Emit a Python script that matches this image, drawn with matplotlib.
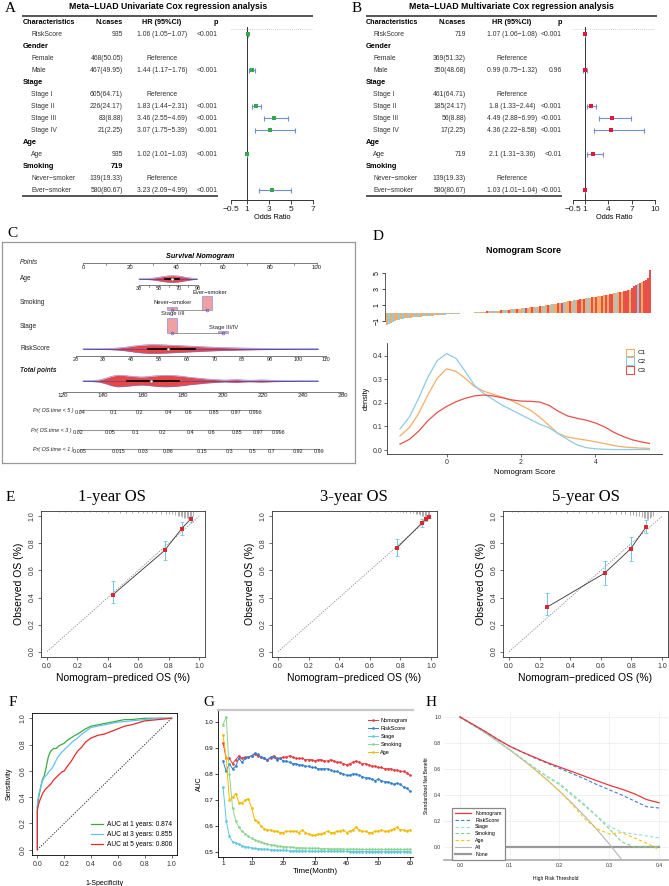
import numpy as np
import matplotlib
matplotlib.use("Agg")
import matplotlib.pyplot as plt
from matplotlib.patches import Patch
from matplotlib.lines import Line2D

plt.rcParams['font.family'] = ['Liberation Sans', 'DejaVu Sans']
plt.rcParams['axes.linewidth'] = 0.6
plt.rcParams['xtick.major.width'] = 0.5
plt.rcParams['ytick.major.width'] = 0.5
plt.rcParams['xtick.major.size'] = 2
plt.rcParams['ytick.major.size'] = 2
plt.rcParams['xtick.major.pad'] = 1.5
plt.rcParams['ytick.major.pad'] = 1.5
SERIF = ['Liberation Serif', 'DejaVu Serif']
MINUS = '\u2212'

# ======================= DATA =======================
# ---- Panels A / B : Cox regression ----
row_labels = ["RiskScore", "Gender", "Female", "Male", "Stage", "Stage I", "Stage II",
              "Stage III", "Stage IV", "Age", "Age", "Smoking", "Never\u2212smoker", "Ever\u2212smoker"]
row_is_group = [False, True, False, False, True, False, False, False, False, True, False, True, False, False]
row_is_ref = [False, False, True, False, False, True, False, False, False, False, False, False, True, False]
nan = np.nan

uni_n = ["935", "", "468(50.05)", "467(49.95)", "", "605(64.71)", "226(24.17)", "83(8.88)",
         "21(2.25)", "", "935", "719", "139(19.33)", "580(80.67)"]
uni_hr = [1.06, nan, nan, 1.44, nan, nan, 1.83, 3.46, 3.07, nan, 1.02, nan, nan, 3.23]
uni_lo = [1.05, nan, nan, 1.17, nan, nan, 1.44, 2.55, 1.75, nan, 1.01, nan, nan, 2.09]
uni_hi = [1.07, nan, nan, 1.76, nan, nan, 2.31, 4.69, 5.39, nan, 1.03, nan, nan, 4.99]
uni_p = ["<0.001", "", "", "<0.001", "", "", "<0.001", "<0.001", "<0.001", "", "<0.001", "", "", "<0.001"]

multi_n = ["719", "", "369(51.32)", "350(48.68)", "", "461(64.71)", "185(24.17)", "56(8.88)",
           "17(2.25)", "", "719", "", "139(19.33)", "580(80.67)"]
multi_hr = [1.07, nan, nan, 0.99, nan, nan, 1.8, 4.49, 4.36, nan, 2.1, nan, nan, 1.03]
multi_lo = [1.06, nan, nan, 0.75, nan, nan, 1.33, 2.88, 2.22, nan, 1.31, nan, nan, 1.01]
multi_hi = [1.08, nan, nan, 1.32, nan, nan, 2.44, 6.99, 8.58, nan, 3.36, nan, nan, 1.04]
multi_p = ["<0.001", "", "", "0.96", "", "", "<0.001", "<0.001", "<0.001", "", "<0.01", "", "", "<0.001"]

uni_ticks = [-0.5, 1, 3, 5, 7]
multi_ticks = [-0.5, 1, 4, 7, 10]

# ---- Panel C : nomogram ----
points_ticks = [0, 10, 20, 30, 40, 50, 60, 70, 80, 90, 100]
age_ticks = [30, 40, 50, 60, 70, 80, 90]
age_grid = [30, 35, 40, 45, 50, 55, 60, 65, 70, 75, 80, 85, 89]
age_hw = [0.3, 0.4, 0.6, 1.0, 1.8, 2.6, 3.2, 3.3, 3.0, 2.2, 1.3, 0.6, 0.3]
age_med, age_q1, age_q3 = 64, 56, 71
smoking_levels = ["Never\u2212smoker", "Ever\u2212smoker"]
smoking_points = [38.0, 53.0]
smoking_freq = [19.33, 80.67]
stage_levels = ["Stage I/II", "Stage III/IV"]
stage_points = [38.0, 59.8]
stage_freq = [88.88, 11.12]
risk_ticks = [20, 30, 40, 50, 60, 70, 80, 90, 100, 110]
risk_grid = [22.7, 28, 32, 35, 38, 41, 44, 47, 50, 53, 56, 59, 62, 65, 68, 71, 74, 77, 80, 84, 88, 92, 96, 100, 104, 107.3]
risk_hw = [0.3, 0.4, 0.6, 1.0, 1.8, 3.0, 3.9, 4.4, 4.3, 4.0, 3.6, 3.2, 2.8, 2.4, 2.0, 1.7, 1.4, 1.2, 1.0, 0.8, 0.6, 0.5, 0.4, 0.35, 0.3, 0.25]
risk_med, risk_q1, risk_q3 = 53.3, 46.2, 63.0
total_ticks = [120, 140, 160, 180, 200, 220, 240, 260]
total_grid = [130, 134, 138, 141, 144, 147, 150, 153, 156, 159, 162, 165, 168, 171, 174, 177, 180, 183, 186, 189,
              192, 195, 198, 201, 204, 207, 210, 213, 216, 219, 222, 225, 230, 235, 240, 247.5]
total_hw = [0.3, 0.5, 1.0, 2.5, 4.5, 5.8, 5.6, 5.0, 4.4, 4.0, 4.3, 5.0, 5.5, 5.8, 5.6, 5.2, 4.6, 3.8, 3.2, 2.6,
            2.0, 1.6, 1.2, 0.9, 1.2, 1.4, 1.0, 0.8, 0.9, 1.1, 0.9, 0.7, 0.5, 0.4, 0.3, 0.2]
total_med, total_q1, total_q3 = 164, 152, 178
pr5_ticks = [0.04, 0.1, 0.2, 0.4, 0.6, 0.85, 0.97, 0.998]
pr3_ticks = [0.02, 0.05, 0.1, 0.2, 0.4, 0.6, 0.85, 0.97, 0.998]
pr1_ticks = [0.005, 0.015, 0.03, 0.06, 0.15, 0.3, 0.5, 0.7, 0.92, 0.99]

# ---- Panel D : nomogram score ----
score_sorted = [-1.60, -1.35, -1.20, -1.08, -1.00, -0.92, -0.85, -0.78, -0.72, -0.67, -0.63, -0.60,
                -0.57, -0.54, -0.51, -0.48, -0.46, -0.44, -0.42, -0.40, -0.38, -0.36, -0.34, -0.32,
                -0.30, -0.28, -0.26, -0.24, -0.22, -0.20, -0.18, -0.16, -0.14, -0.12, -0.10, -0.09,
                -0.07, -0.05, -0.04, -0.02, -0.01, 0.01, 0.03, 0.05, 0.07, 0.09, 0.11, 0.13,
                0.15, 0.17, 0.19, 0.21, 0.23, 0.25, 0.27, 0.29, 0.31, 0.33, 0.36, 0.38,
                0.40, 0.43, 0.45, 0.48, 0.50, 0.53, 0.55, 0.58, 0.61, 0.63, 0.66, 0.69,
                0.72, 0.75, 0.78, 0.81, 0.85, 0.88, 0.92, 0.95, 0.99, 1.03, 1.07, 1.11,
                1.15, 1.19, 1.24, 1.29, 1.34, 1.39, 1.44, 1.48, 1.53, 1.57, 1.62, 1.66,
                1.71, 1.75, 1.80, 1.84, 1.88, 1.92, 1.96, 2.00, 2.04, 2.08, 2.12, 2.16,
                2.20, 2.25, 2.30, 2.35, 2.41, 2.47, 2.53, 2.58, 2.63, 2.68, 2.73, 2.78,
                2.84, 2.90, 3.10, 3.40, 3.55, 3.65, 3.75, 3.85, 3.95, 4.10, 4.35, 5.40]
score_cluster = ("121211212112" "112121121211" "211212112122" "121112211121"
                 "113121211312" "131213112311" "312131213121" "131321131213"
                 "313121313113" "131331213133" "313332313333")
cluster_names = ["C1", "C2", "C3"]
cluster_colors = ["#F4AD67", "#8DCBE6", "#E8504A"]
dens_x = [-1.25, -1.0, -0.75, -0.5, -0.25, 0, 0.25, 0.5, 0.75, 1.0, 1.25, 1.5, 1.75, 2.0,
          2.25, 2.5, 2.75, 3.0, 3.25, 3.5, 3.75, 4.0, 4.25, 4.5, 4.75, 5.0, 5.25, 5.45]
dens_c1 = [0.06, 0.095, 0.155, 0.235, 0.305, 0.345, 0.335, 0.305, 0.27, 0.25, 0.237, 0.225, 0.21, 0.19,
           0.17, 0.14, 0.105, 0.07, 0.055, 0.048, 0.042, 0.035, 0.027, 0.019, 0.013, 0.01, 0.008, 0.007]
dens_c2 = [0.09, 0.14, 0.22, 0.31, 0.38, 0.41, 0.39, 0.335, 0.275, 0.24, 0.215, 0.19, 0.17, 0.15,
           0.13, 0.11, 0.095, 0.07, 0.045, 0.022, 0.01, 0.005, 0.003, 0.002, 0.002, 0.002, 0.002, 0.002]
dens_c3 = [0.025, 0.045, 0.08, 0.125, 0.16, 0.185, 0.205, 0.22, 0.23, 0.234, 0.23, 0.222, 0.213, 0.208,
           0.207, 0.204, 0.19, 0.165, 0.145, 0.135, 0.127, 0.115, 0.098, 0.075, 0.057, 0.043, 0.034, 0.028]

# ---- Panel E : calibration ----
cal_titles = ["1-year OS", "3-year OS", "5-year OS"]
cal_pred = [[0.433, 0.774, 0.886, 0.945], [0.78, 0.94, 0.965, 0.985], [0.25, 0.625, 0.795, 0.895]]
cal_obs = [[0.42, 0.748, 0.909, 0.98], [0.77, 0.95, 0.98, 0.995], [0.33, 0.58, 0.76, 0.92]]
cal_lo = [[0.36, 0.68, 0.859, 0.955], [0.71, 0.92, 0.965, 0.99], [0.27, 0.49, 0.67, 0.875]]
cal_hi = [[0.52, 0.82, 0.958, 1.0], [0.83, 0.98, 0.99, 1.0], [0.43, 0.67, 0.845, 0.97]]
rug_x = [[0.08, 0.12, 0.16, 0.2, 0.24, 0.28, 0.32, 0.36, 0.4, 0.44, 0.48, 0.52, 0.56, 0.6, 0.63, 0.66, 0.69,
          0.72, 0.75, 0.78, 0.8, 0.82, 0.84, 0.86, 0.87, 0.88, 0.89, 0.9, 0.91, 0.92, 0.93, 0.94, 0.95, 0.96],
         [0.6, 0.65, 0.7, 0.74, 0.78, 0.8, 0.82, 0.84, 0.86, 0.88, 0.9, 0.91, 0.92, 0.93, 0.94, 0.95, 0.96,
          0.97, 0.98, 0.99],
         [0.02, 0.06, 0.1, 0.14, 0.18, 0.22, 0.26, 0.3, 0.34, 0.38, 0.42, 0.46, 0.5, 0.54, 0.58, 0.62, 0.66,
          0.7, 0.73, 0.76, 0.79, 0.81, 0.83, 0.85, 0.87, 0.88, 0.89, 0.9, 0.91, 0.92, 0.93, 0.94]]
rug_h = [[0.008, 0.006, 0.008, 0.008, 0.01, 0.008, 0.01, 0.01, 0.012, 0.01, 0.012, 0.012, 0.012, 0.014, 0.014,
          0.016, 0.016, 0.018, 0.02, 0.022, 0.022, 0.025, 0.03, 0.035, 0.035, 0.04, 0.045, 0.05, 0.05, 0.055,
          0.06, 0.06, 0.05, 0.04],
         [0.006, 0.006, 0.008, 0.008, 0.01, 0.01, 0.012, 0.012, 0.015, 0.018, 0.02, 0.022, 0.025, 0.03, 0.035,
          0.04, 0.045, 0.05, 0.06, 0.055],
         [0.008, 0.006, 0.008, 0.01, 0.008, 0.01, 0.008, 0.01, 0.01, 0.012, 0.01, 0.012, 0.012, 0.014, 0.014,
          0.016, 0.018, 0.02, 0.022, 0.025, 0.028, 0.03, 0.035, 0.04, 0.045, 0.05, 0.055, 0.06, 0.06, 0.055,
          0.045, 0.035]]

# ---- Panel F : ROC ----
roc1_fpr = [0, 0, 0.01, 0.02, 0.03, 0.04, 0.05, 0.06, 0.07, 0.08, 0.09, 0.1, 0.12, 0.14, 0.16, 0.18, 0.2, 0.22,
            0.25, 0.28, 0.3, 0.33, 0.36, 0.4, 0.45, 0.5, 0.55, 0.6, 0.65, 0.7, 0.8, 0.9, 1.0]
roc1_tpr = [0, 0.33, 0.4, 0.45, 0.5, 0.54, 0.56, 0.6, 0.65, 0.7, 0.73, 0.75, 0.77, 0.77, 0.79, 0.8, 0.81, 0.83,
            0.85, 0.87, 0.88, 0.9, 0.92, 0.94, 0.95, 0.96, 0.97, 0.98, 0.99, 0.99, 1.0, 1.0, 1.0]
roc3_fpr = [0, 0, 0.01, 0.02, 0.03, 0.05, 0.07, 0.09, 0.11, 0.13, 0.15, 0.18, 0.2, 0.23, 0.26, 0.3, 0.33, 0.36,
            0.4, 0.45, 0.5, 0.55, 0.6, 0.7, 0.8, 0.9, 1.0]
roc3_tpr = [0, 0.35, 0.42, 0.46, 0.5, 0.55, 0.57, 0.6, 0.62, 0.66, 0.7, 0.74, 0.76, 0.79, 0.82, 0.85, 0.88, 0.9,
            0.93, 0.94, 0.95, 0.96, 0.97, 0.98, 0.99, 1.0, 1.0]
roc5_fpr = [0, 0, 0.01, 0.02, 0.04, 0.06, 0.08, 0.1, 0.12, 0.15, 0.18, 0.2, 0.22, 0.25, 0.28, 0.3, 0.33, 0.36,
            0.4, 0.45, 0.5, 0.55, 0.6, 0.65, 0.7, 0.8, 0.9, 1.0]
roc5_tpr = [0, 0.3, 0.35, 0.38, 0.43, 0.46, 0.48, 0.5, 0.53, 0.56, 0.59, 0.6, 0.63, 0.67, 0.72, 0.75, 0.78, 0.82,
            0.85, 0.87, 0.88, 0.9, 0.92, 0.94, 0.95, 0.98, 0.99, 1.0]
roc_labels = ["AUC at 1 years: 0.874", "AUC at 3 years: 0.855", "AUC at 5 years: 0.806"]

# ---- Panel G : time-dependent AUC ----
months = list(range(1, 61))
auc_nomogram = [0.92, 0.86, 0.86, 0.84, 0.855, 0.87, 0.86, 0.865, 0.865, 0.87, 0.875, 0.87, 0.865, 0.86, 0.855,
                0.86, 0.87, 0.86, 0.86, 0.865, 0.865, 0.87, 0.865, 0.86, 0.86, 0.86, 0.855, 0.855, 0.855, 0.85,
                0.855, 0.855, 0.85, 0.85, 0.855, 0.85, 0.845, 0.845, 0.84, 0.835, 0.84, 0.845, 0.85, 0.845, 0.84,
                0.84, 0.835, 0.83, 0.83, 0.825, 0.825, 0.82, 0.82, 0.82, 0.815, 0.815, 0.81, 0.81, 0.805, 0.795]
auc_riskscore = [0.85, 0.81, 0.84, 0.82, 0.83, 0.86, 0.845, 0.86, 0.865, 0.87, 0.88, 0.875, 0.865, 0.86, 0.855,
                 0.865, 0.865, 0.855, 0.86, 0.85, 0.85, 0.845, 0.84, 0.84, 0.835, 0.835, 0.83, 0.83, 0.825, 0.825,
                 0.82, 0.82, 0.82, 0.82, 0.815, 0.81, 0.81, 0.805, 0.80, 0.795, 0.795, 0.80, 0.80, 0.795, 0.79,
                 0.785, 0.785, 0.78, 0.775, 0.78, 0.775, 0.77, 0.77, 0.765, 0.76, 0.765, 0.76, 0.75, 0.745, 0.735]
auc_stage = [0.75, 0.62, 0.56, 0.54, 0.535, 0.53, 0.525, 0.52, 0.518, 0.516, 0.514, 0.513, 0.512, 0.511, 0.51,
             0.509, 0.508, 0.507, 0.507, 0.506, 0.506, 0.505, 0.505, 0.505, 0.504, 0.504, 0.504, 0.504, 0.503,
             0.503, 0.503, 0.503, 0.503, 0.503, 0.503, 0.503, 0.503, 0.503, 0.503, 0.503, 0.502, 0.502, 0.502,
             0.502, 0.502, 0.502, 0.502, 0.502, 0.502, 0.502, 0.502, 0.502, 0.502, 0.502, 0.502, 0.502, 0.502,
             0.502, 0.502, 0.502]
auc_smoking = [0.99, 1.02, 0.80, 0.67, 0.62, 0.595, 0.58, 0.57, 0.56, 0.553, 0.547, 0.542, 0.538, 0.534, 0.531,
               0.528, 0.526, 0.524, 0.522, 0.521, 0.52, 0.519, 0.518, 0.517, 0.516, 0.516, 0.515, 0.515, 0.514,
               0.514, 0.514, 0.513, 0.513, 0.513, 0.512, 0.512, 0.512, 0.512, 0.511, 0.511, 0.511, 0.511, 0.511,
               0.51, 0.51, 0.51, 0.51, 0.51, 0.51, 0.51, 0.51, 0.51, 0.51, 0.51, 0.51, 0.51, 0.51, 0.51, 0.51, 0.51]
auc_age = [0.95, 0.86, 0.70, 0.71, 0.725, 0.69, 0.69, 0.70, 0.705, 0.67, 0.625, 0.615, 0.60, 0.59, 0.585, 0.585,
           0.58, 0.58, 0.575, 0.575, 0.58, 0.58, 0.58, 0.58, 0.575, 0.585, 0.575, 0.57, 0.565, 0.565, 0.57, 0.57,
           0.575, 0.58, 0.575, 0.575, 0.58, 0.58, 0.585, 0.575, 0.58, 0.585, 0.595, 0.585, 0.58, 0.58, 0.575,
           0.575, 0.58, 0.58, 0.585, 0.58, 0.58, 0.585, 0.59, 0.595, 0.585, 0.585, 0.58, 0.585]

# ---- Panel H : decision curve ----
dca_thr = [0.0, 0.025, 0.05, 0.075, 0.1, 0.125, 0.15, 0.175, 0.2, 0.225, 0.25, 0.275, 0.3, 0.325, 0.35, 0.375, 0.4]
dca_nomogram = [1.0, 0.945, 0.89, 0.83, 0.775, 0.73, 0.69, 0.65, 0.615, 0.58, 0.545, 0.51, 0.475, 0.445, 0.41, 0.365, 0.34]
dca_riskscore = [1.0, 0.945, 0.89, 0.83, 0.775, 0.73, 0.685, 0.645, 0.605, 0.565, 0.525, 0.48, 0.44, 0.4, 0.355, 0.31, 0.30]
dca_stage = [1.0, 0.94, 0.88, 0.815, 0.75, 0.68, 0.61, 0.545, 0.49, 0.41, 0.33, 0.24, 0.16, 0.115, 0.1, 0.085, 0.07]
dca_smoking = [1.0, 0.94, 0.88, 0.815, 0.75, 0.68, 0.61, 0.54, 0.48, 0.4, 0.32, 0.235, 0.14, 0.04, 0.0, 0.0, 0.0]
dca_age = [1.0, 0.94, 0.88, 0.815, 0.747, 0.675, 0.598, 0.515, 0.43, 0.33, 0.22, 0.14, 0.1, 0.11, 0.07, 0.03, -0.02]
dca_all_thr = [0.0, 0.025, 0.05, 0.075, 0.1, 0.125, 0.15, 0.175, 0.2, 0.225, 0.25, 0.275, 0.3, 0.3256]
dca_all = [1.0, 0.942, 0.88, 0.815, 0.747, 0.674, 0.598, 0.517, 0.43, 0.338, 0.24, 0.136, 0.023, -0.1]
dca_none_thr = [0.0, 0.4]
dca_none = [0.0, 0.0]

# ======================= FIGURE =======================
W, H = 669, 886
fig = plt.figure(figsize=(W / 100, H / 100), dpi=100)


def ax_px(l, t, r, b):
    return fig.add_axes([l / W, 1 - b / H, (r - l) / W, (b - t) / H])


ov = ax_px(0, 0, W, H)
ov.set_xlim(0, W)
ov.set_ylim(H, 0)
ov.axis('off')

for lab, x, y in [('A', 10, 8), ('B', 357, 8), ('C', 12, 233), ('D', 378, 236), ('E', 10, 497),
                  ('F', 13, 702), ('G', 209, 702), ('H', 431, 702)]:
    ov.text(x, y, lab, fontsize=11, family=SERIF, ha='center', va='center')


# ---------------- A / B ----------------
def cox_panel(L, n, hr, lo, hi, pv, mcol):
    ov.text(L['title_x'], 6.5, L['title'], ha='center', va='center', fontsize=6.3, fontweight='bold')
    ov.plot([L['l'], L['r']], [16, 16], color='#555555', lw=1.4, solid_capstyle='butt')
    fs = 4.9
    hk = dict(fontsize=5.2, fontweight='bold', va='center')
    ov.text(L['char_x'], 22, 'Characteristics', ha='left', **hk)
    ov.text(L['n_r'], 22, 'N.cases', ha='right', **hk)
    ov.text(L['hr_c'], 22, 'HR (95%CI)', ha='center', **hk)
    ov.text(L['p_c'], 22, 'p', ha='center', **hk)
    for i, lab in enumerate(row_labels):
        y = 34 + 12 * i
        if row_is_group[i]:
            ov.text(L['char_x'], y, lab, fontsize=5.3, fontweight='bold', va='center')
            if n[i]:
                ov.text(L['n_r'], y, n[i], fontsize=5.3, fontweight='bold', va='center', ha='right')
            continue
        tk = dict(fontsize=fs, color='#333333', va='center')
        ov.text(L['sub_x'], y, lab, ha='left', **tk)
        ov.text(L['n_r'], y, n[i], ha='right', **tk)
        if row_is_ref[i]:
            ov.text(L['hr_c'], y, 'Reference', ha='center', **tk)
        else:
            ov.text(L['hr_c'], y, f"{hr[i]:g} ({lo[i]:g}{MINUS}{hi[i]:g})", ha='center', **tk)
            ov.text(L['p_r'], y, pv[i], ha='right', **tk)
    ov.plot([L['l'], L['p_r']], [196, 196], color='#555555', lw=1.4, solid_capstyle='butt')

    fx = ax_px(L['fl'], 27, L['fr'], 200)
    fx.patch.set_alpha(0)
    fx.set_xlim(L['xlim'])
    fx.set_ylim(13.833, -0.583)
    for s in ['top', 'right', 'left']:
        fx.spines[s].set_visible(False)
    fx.spines['bottom'].set_color('#333333')
    fx.spines['bottom'].set_linewidth(0.7)
    fx.set_xticks(L['ticks'])
    fx.set_xticklabels([f"{t:g}".replace('-', MINUS) for t in L['ticks']], fontsize=6)
    fx.set_yticks([])
    fx.tick_params(axis='x', length=3, width=0.6, pad=1.5, colors='#222222')
    fx.set_xlabel('Odds Ratio', fontsize=5.3, labelpad=0.5)
    fx.axvline(1, color='#333333', lw=0.7)
    fx.axhline(-0.45, color='#BBBBBB', lw=0.6, ls=(0, (1, 1.5)))
    hr = np.array(hr, float)
    lo = np.array(lo, float)
    hi = np.array(hi, float)
    rows = np.arange(len(hr))
    ok = np.isfinite(hr)
    fx.errorbar(hr[ok], rows[ok], xerr=[hr[ok] - lo[ok], hi[ok] - hr[ok]], fmt='none',
                ecolor='#6E8FD3', elinewidth=0.8, capsize=1.8, capthick=0.8)
    fx.plot(hr[ok], rows[ok], 's', color=mcol, ms=3.2, mew=0)


cox_panel(dict(title='Meta\u2212LUAD Univariate Cox regression analysis', title_x=168, l=22, r=313,
               char_x=23, sub_x=31, n_r=123, hr_c=162, p_c=216, p_r=218, fl=230.5, fr=313,
               xlim=(-0.5, 7), ticks=uni_ticks),
          uni_n, uni_hr, uni_lo, uni_hi, uni_p, '#33A84A')
cox_panel(dict(title='Meta\u2212LUAD Multivariate Cox regression analysis', title_x=511, l=366, r=657,
               char_x=366, sub_x=373, n_r=466, hr_c=512, p_c=560, p_r=562, fl=573, fr=655,
               xlim=(-0.5, 10), ticks=multi_ticks),
          multi_n, multi_hr, multi_lo, multi_hi, multi_p, '#E3163C')

# ---------------- C : nomogram ----------------
cx = ax_px(2, 242, 355, 463)
cx.set_xlim(2, 355)
cx.set_ylim(463, 242)
cx.set_xticks([])
cx.set_yticks([])
for s in cx.spines.values():
    s.set_color('#999999')
    s.set_linewidth(0.9)
cx.patch.set_alpha(0)


def lin(v, v0, v1, q0, q1):
    return q0 + (np.asarray(v, float) - v0) * (q1 - q0) / (v1 - v0)


pts_px = lambda v: lin(v, 0, 100, 83, 317)
age_px = lambda v: lin(v, 30, 90, 139, 198)
risk_px = lambda v: lin(v, 20, 110, 75.5, 325.5)
tot_px = lambda v: lin(v, 120, 260, 63, 343)
cloglog = lambda p: np.log(-np.log(1 - np.asarray(p, float)))


def pr_px(p, p0, t0):
    return tot_px(t0 + 17.5 * (cloglog(p) - cloglog(p0)))


def nomo_axis(xs, labs, y, fs=4.3, tick=1.8, dy=4.2, lc='#666666', lw=0.6):
    xs = np.asarray(xs, float)
    cx.plot([xs.min(), xs.max()], [y, y], color=lc, lw=lw)
    for x, lab in zip(xs, labs):
        cx.plot([x, x], [y, y + tick], color=lc, lw=0.5)
        if lab:
            cx.text(x, y + dy, lab, fontsize=fs, ha='center', va='center', color='#222222')


def violin(grid, hw, y, f, med, q1, q3):
    xs = f(grid)
    hw = np.asarray(hw, float)
    cx.fill_between(xs, y - hw, y + hw, color='#E8474A', lw=0)
    cx.plot(xs, y - hw, color='#7077D6', lw=0.4)
    cx.plot(xs, y + hw, color='#7077D6', lw=0.4)
    cx.plot(xs, np.full_like(xs, y), color='#3A3F9A', lw=0.4)
    cx.plot(f([q1, q3]), [y, y], color='black', lw=1.2)
    cx.plot(f([med]), [y], 'o', ms=2.2, mfc='white', mec='#555555', mew=0.4)


lk = dict(fontsize=4.7, va='center', ha='left', color='#222222')
cx.text(200, 257, 'Survival Nomogram', fontsize=5.2, fontweight='bold', style='italic', ha='center', va='center')
cx.text(20, 262, 'Points', style='italic', **lk)
nomo_axis(pts_px(points_ticks), [str(t) if t % 20 == 0 else '' for t in points_ticks], 263, fs=4.3)

cx.text(20, 279, 'Age', **lk)
violin(age_grid, age_hw, 279, age_px, age_med, age_q1, age_q3)
nomo_axis(age_px(age_ticks), [str(t) if t % 20 == 10 else '' for t in age_ticks], 285, fs=3.9, dy=3.8)

BAR_SCALE = 0.17


def cat_row(points, freq, levels, base, label_dx):
    xs = pts_px(points)
    cx.plot(xs, [base, base], color='#888888', lw=0.6)
    for x, fr, lev, dx in zip(xs, freq, levels, label_dx):
        hgt = fr * BAR_SCALE
        cx.bar(x, -hgt, bottom=base, width=9.5, color='#EFA0A0', edgecolor='#8F8FE0', lw=0.5)
        cx.plot([x], [base], 'o', ms=2, mfc='none', mec='#5A5AD0', mew=0.5)
        cx.text(x + dx, base - hgt - 4, lev, fontsize=4.2, ha='center', va='center', color='#222222')


cx.text(20, 302, 'Smoking', **lk)
cat_row(smoking_points, smoking_freq, smoking_levels, 310, [1, 3])
cx.text(20, 327, 'Stage', **lk)
cat_row(stage_points, stage_freq, stage_levels, 333, [1, 1])

cx.text(20, 349, 'RiskScore', **lk)
violin(risk_grid, risk_hw, 349, risk_px, risk_med, risk_q1, risk_q3)
nomo_axis(risk_px(risk_ticks), [str(t) for t in risk_ticks], 356, fs=3.9, dy=3.8)

cx.text(20, 371, 'Total points', fontweight='bold', style='italic', **lk)
violin(total_grid, total_hw, 381, tot_px, total_med, total_q1, total_q3)
nomo_axis(tot_px(total_ticks), [str(t) for t in total_ticks], 392, fs=4.5, dy=3.5)

for yr, ticks, t0, ry in [(5, pr5_ticks, 128.5, 411), (3, pr3_ticks, 127.5, 431), (1, pr1_ticks, 128.5, 450)]:
    xs = pr_px(ticks, ticks[0], t0)
    nomo_axis(xs, [f"{t:g}" for t in ticks], ry - 1.5, fs=3.9, tick=1.2, dy=2.8, lc='#999999', lw=0.8)
    cx.text(xs[0] - 7, ry - 0.5, f"Pr( OS.time < {yr} )", fontsize=3.9, style='italic', ha='right', va='center',
            color='#222222')

# ---------------- D ----------------
ov.text(523, 250, 'Nomogram Score', fontsize=6.5, fontweight='bold', ha='center', va='center')
d1 = ax_px(385, 265, 653, 325)
d1.patch.set_alpha(0)
cols = [cluster_colors[int(c) - 1] for c in score_cluster]
d1.bar(np.arange(len(score_sorted)), score_sorted, width=1.0, color=cols, lw=0)
d1.set_xlim(-1, 132.5)
d1.set_ylim(-1.5, 6.0)
for s in ['top', 'right', 'bottom']:
    d1.spines[s].set_visible(False)
d1.spines['left'].set_bounds(-1, 5)
d1.spines['left'].set_color('#444444')
d1.set_xticks([])
d1.set_yticks([-1, 1, 3, 5])
d1.set_yticklabels(['\u22121', '1', '3', '5'], rotation=90, va='center', fontsize=5)
d1.tick_params(axis='y', length=2, pad=1)

d2 = ax_px(387, 343, 662, 454)
d2.patch.set_alpha(0)
for name, dens, c in zip(cluster_names, [dens_c1, dens_c2, dens_c3], cluster_colors):
    d2.plot(dens_x, dens, color=c, lw=0.9)
d2.set_xlim(-1.6, 5.79)
d2.set_ylim(-0.017, 0.455)
for s in ['top', 'right']:
    d2.spines[s].set_visible(False)
for s in ['left', 'bottom']:
    d2.spines[s].set_color('#333333')
d2.set_xticks([0, 2, 4])
d2.set_yticks([0, 0.1, 0.2, 0.3, 0.4])
d2.set_yticklabels(['0.0', '0.1', '0.2', '0.3', '0.4'])
d2.tick_params(labelsize=5, colors='#333333', length=2, pad=1.5)
d2.set_xlabel('Nomogram Score', fontsize=5.6, labelpad=2)
d2.set_ylabel('density', fontsize=5.3, labelpad=2)
hd = [Patch(facecolor='white', edgecolor=c, lw=0.8) for c in cluster_colors]
d2.legend(hd, cluster_names, loc='upper left', bbox_to_anchor=((623 - 387) / 275, 1 - (346 - 343) / 111),
          fontsize=4.5, frameon=False, handlelength=1.4, handleheight=1.5, labelspacing=0.2,
          handletextpad=0.6, borderaxespad=0)

# ---------------- E ----------------
e_boxes = [(41, 205), (272, 437), (503, 668)]
e_title_x = [112, 354, 586]
ticks01 = [0, 0.2, 0.4, 0.6, 0.8, 1.0]
tl01 = ['0.0', '0.2', '0.4', '0.6', '0.8', '1.0']
for k in range(3):
    l, r = e_boxes[k]
    ax = ax_px(l, 511, r, 657)
    ax.set_xlim(-0.04, 1.04)
    ax.set_ylim(-0.04, 1.04)
    ax.plot([0, 1], [0, 1], color='#888888', lw=0.6, ls=(0, (1.5, 1.5)))
    rx = np.array(rug_x[k])
    rh = np.array(rug_h[k])
    ax.vlines(rx, 1.04 - rh, 1.04, color='#8C8C8C', lw=0.5)
    p = np.array(cal_pred[k])
    o = np.array(cal_obs[k])
    lo = np.array(cal_lo[k])
    hi = np.array(cal_hi[k])
    ax.errorbar(p, o, yerr=[o - lo, hi - o], fmt='none', ecolor='#69C9E6', elinewidth=0.7,
                capsize=1.3, capthick=0.6)
    ax.plot(p, o, color='#333333', lw=0.6)
    ax.plot(p, o, 's', color='#E0242E', ms=2.4, mew=0)
    ax.set_xticks(ticks01)
    ax.set_xticklabels(tl01)
    ax.set_yticks(ticks01)
    ax.set_yticklabels(tl01, rotation=90, va='center')
    ax.tick_params(labelsize=5, colors='#333333', length=2.5, pad=1.5)
    for s in ax.spines.values():
        s.set_color('#333333')
    ax.set_xlabel('Nomogram\u2212prediced OS (%)', fontsize=7.5, labelpad=2.5)
    ax.set_ylabel('Observed OS (%)', fontsize=7.5, labelpad=3)
    ov.text(e_title_x[k], 497, cal_titles[k], family=SERIF, fontsize=12, ha='center', va='center')

# ---------------- F ----------------
fa = ax_px(32, 713, 177, 855)
fa.set_xlim(-0.04, 1.04)
fa.set_ylim(-0.04, 1.04)
fa.plot([0, 1], [0, 1], color='#222222', lw=0.7, ls=(0, (1.2, 1.5)))
for fpr, tpr, c, lab in [(roc1_fpr, roc1_tpr, '#3DAA3D', roc_labels[0]),
                         (roc3_fpr, roc3_tpr, '#62C3EE', roc_labels[1]),
                         (roc5_fpr, roc5_tpr, '#E8282B', roc_labels[2])]:
    fa.plot(fpr, tpr, color=c, lw=0.9, label=lab)
fa.set_xticks(ticks01)
fa.set_xticklabels(tl01)
fa.set_yticks(ticks01)
fa.set_yticklabels(tl01, rotation=90, va='center')
fa.tick_params(labelsize=5, colors='#333333', length=2.5, pad=1.5)
fa.set_xlabel('1-Specificity', fontsize=5, labelpad=9)
fa.set_ylabel('Sensitivity', fontsize=5.2, labelpad=5)
fa.legend(loc='lower right', bbox_to_anchor=(0.985, 0.03), fontsize=4.8, frameon=False,
          handlelength=1.8, labelspacing=0.45, borderaxespad=0, handletextpad=0.6)

# ---------------- G ----------------
ga = ax_px(218, 710, 413, 857)
for vals, c, lab in [(auc_nomogram, '#E8383D', 'Nomogram'), (auc_riskscore, '#2F7FD1', 'RiskScore'),
                     (auc_stage, '#5BC8E0', 'Stage'), (auc_smoking, '#8ED48E', 'Smoking'),
                     (auc_age, '#F5B800', 'Age')]:
    ga.plot(months, vals, color=c, lw=0.7, marker='.', ms=1.8, label=lab)
ga.set_xlim(-0.6, 61)
ga.set_ylim(0.481, 1.046)
ga.spines['right'].set_visible(False)
ga.spines['top'].set_color('#C8C8C8')
ga.spines['top'].set_linewidth(1.6)
ga.set_xticks([1, 10, 20, 30, 40, 50, 60])
ga.set_yticks([0.5, 0.6, 0.7, 0.8, 0.9, 1.0])
ga.set_yticklabels(['0.5', '0.6', '0.7', '0.8', '0.9', '1.0'])
ga.tick_params(labelsize=4.5, length=2, pad=1.2)
ga.set_xlabel('Time(Month)', fontsize=5.8, labelpad=1)
ga.set_ylabel('AUC', fontsize=5, labelpad=1)
ga.legend(loc='upper right', bbox_to_anchor=(0.985, 0.96), fontsize=4, frameon=False,
          handlelength=1.8, labelspacing=0.55, borderaxespad=0, handletextpad=0.5)

# ---------------- H ----------------
ha_ = ax_px(444, 711, 668, 860)
ha_.grid(color='#ECECEC', lw=0.5)
ha_.set_axisbelow(True)
ha_.plot(dca_none_thr, dca_none, color='#999999', lw=1.6, label='None', zorder=2)
ha_.plot(dca_all_thr, dca_all, color='#B5B5B5', lw=0.8, label='All', zorder=2)
ha_.plot(dca_thr, dca_age, color='#F5C518', lw=0.8, ls=(0, (3, 2)), label='Age', zorder=3)
ha_.plot(dca_thr, dca_smoking, color='#86CF86', lw=0.8, ls=(0, (3, 2)), label='Smoking', zorder=3)
ha_.plot(dca_thr, dca_stage, color='#9ADDE3', lw=0.8, ls=(0, (3, 2)), label='Stage', zorder=3)
ha_.plot(dca_thr, dca_riskscore, color='#3A7FD5', lw=0.8, ls=(0, (3, 2)), label='RiskScore', zorder=3)
ha_.plot(dca_thr, dca_nomogram, color='#E8383D', lw=0.9, label='Nomogram', zorder=4)
ha_.set_xlim(-0.032, 0.418)
ha_.set_ylim(-0.1, 1.046)
for s in ['top', 'right', 'left']:
    ha_.spines[s].set_visible(False)
ha_.spines['bottom'].set_color('#AAAAAA')
ha_.spines['bottom'].set_linewidth(1.2)
ha_.set_xticks([0, 0.1, 0.2, 0.3, 0.4])
ha_.set_xticklabels(['0.0', '0.1', '0.2', '0.3', '0.4'])
ha_.set_yticks([0, 0.2, 0.4, 0.6, 0.8, 1.0])
ha_.set_yticklabels(['0.0', '0.2', '0.4', '0.6', '0.8', '1.0'])
ha_.tick_params(labelsize=3.6, length=0, pad=2, colors='#333333')
ha_.set_xlabel('High Risk Threshold', fontsize=3.6, labelpad=6)
ha_.set_ylabel('Standardized Net Benefit', fontsize=3.6, labelpad=4)
hh, ll = ha_.get_legend_handles_labels()
order = ['Nomogram', 'RiskScore', 'Stage', 'Smoking', 'Age', 'All', 'None']
hmap = dict(zip(ll, hh))
leg = ha_.legend([hmap[o] for o in order], order, loc='lower left', bbox_to_anchor=(0.036, 0.0),
                 fontsize=3.8, frameon=True, fancybox=False, edgecolor='#888888', framealpha=1,
                 handlelength=3.0, labelspacing=0.35, borderpad=0.6, borderaxespad=0)
leg.get_frame().set_linewidth(0.9)

fig.savefig('out.png', dpi=100)
